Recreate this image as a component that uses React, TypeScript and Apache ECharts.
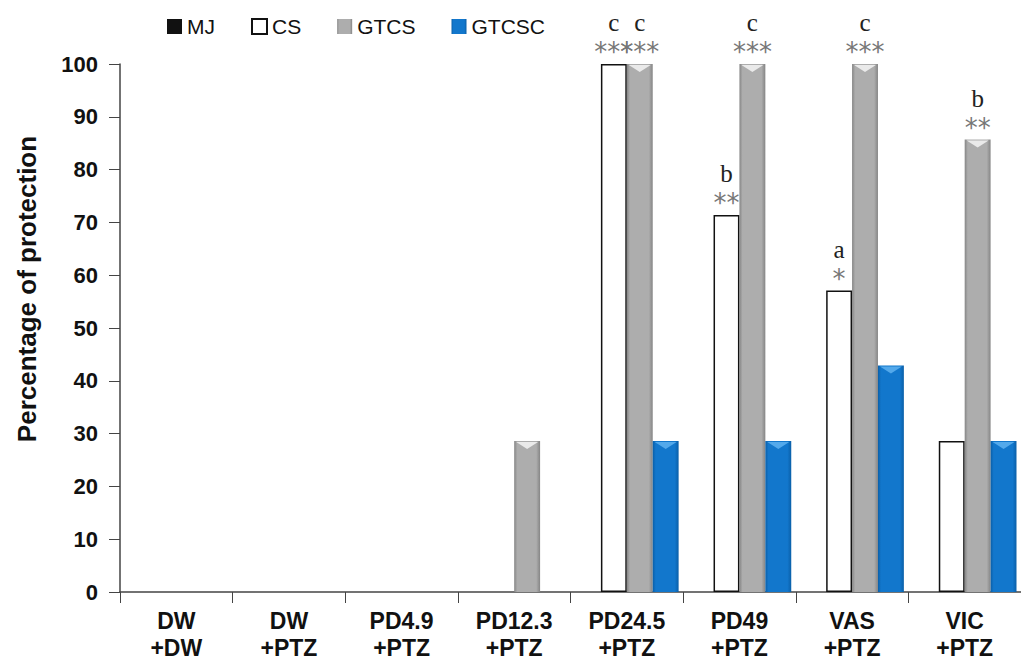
import React, { useEffect, useRef } from "react";
import * as echarts from "echarts";

const categories = ["DW\n+DW", "DW\n+PTZ", "PD4.9\n+PTZ", "PD12.3\n+PTZ", "PD24.5\n+PTZ", "PD49\n+PTZ", "VAS\n+PTZ", "VIC\n+PTZ"];
const seriesNames = ["MJ", "CS", "GTCS", "GTCSC"];
const mjValues = [0, 0, 0, 0, 0, 0, 0, 0];
const csValues = [0, 0, 0, 0, 100, 71.4, 57.1, 28.6];
const gtcsValues = [0, 0, 0, 28.6, 100, 100, 100, 85.7];
const gtcscValues = [0, 0, 0, 0, 28.6, 28.6, 42.9, 28.6];
const csLetters = ["", "", "", "", "c", "b", "a", ""];
const csStars = ["", "", "", "", "***", "**", "*", ""];
const gtcsLetters = ["", "", "", "", "c", "c", "c", "b"];
const gtcsStars = ["", "", "", "", "***", "***", "***", "**"];
const yTicks = { min: 0, max: 100, interval: 10 };
const yAxisTitle = "Percentage of protection";

const CAT_GAP = 0.08;
const SANS = "Liberation Sans, Arial, sans-serif";

function hGrad(edge: string, mid: string) {
  return new echarts.graphic.LinearGradient(0, 0, 1, 0, [
    { offset: 0, color: edge },
    { offset: 0.12, color: mid },
    { offset: 0.85, color: mid },
    { offset: 1, color: edge },
  ]);
}

function annot(letters: string[], stars: string[]) {
  return (p: any) => {
    const l = letters[p.dataIndex];
    const s = stars[p.dataIndex];
    if (!l && !s) return "";
    return `{l|${l}}\n{s|${s}}`;
  };
}

function chevronSeries(values: number[], slot: number, light: string) {
  return {
    type: "custom",
    silent: true,
    z: 5,
    data: values.map((v, i) => [i, v]),
    renderItem: (params: any, api: any) => {
      const v = api.value(1);
      if (!v) return null;
      const cat = api.value(0);
      const top = api.coord([cat, v]);
      const w = api.size([1, 0])[0];
      const usable = w * (1 - CAT_GAP);
      const bw = usable / 4;
      const x0 = top[0] - usable / 2 + slot * bw;
      const x1 = x0 + bw;
      const cx = (x0 + x1) / 2;
      return {
        type: "polygon",
        shape: { points: [[x0 + 2, top[1] + 1], [x1 - 2, top[1] + 1], [cx, top[1] + 8]] },
        style: { fill: light, opacity: 0.85 },
      };
    },
  };
}

export default function App() {
  const ref = useRef<HTMLDivElement>(null);
  useEffect(() => {
    const chart = echarts.init(ref.current!, undefined, { renderer: "svg" });
    const labelRich = {
      l: { fontFamily: "Liberation Serif, DejaVu Serif, serif", fontSize: 25, color: "#222", lineHeight: 39 },
      s: { fontFamily: "DejaVu Sans, sans-serif", fontSize: 26, color: "#777", lineHeight: 20 },
    };
    const barCommon = { type: "bar", barGap: "0%", barCategoryGap: "8%" };
    chart.setOption({
      animation: false,
      backgroundColor: "#fff",
      legend: {
        data: seriesNames,
        top: 11,
        left: 162,
        icon: "rect",
        itemWidth: 15,
        itemHeight: 15,
        itemGap: 36,
        textStyle: { fontFamily: SANS, fontSize: 21, color: "#111" },
      },
      grid: { left: 120, right: 0, top: 64, bottom: 75 },
      graphic: [
        {
          type: "text",
          x: 27,
          y: 289,
          rotation: Math.PI / 2,
          style: {
            text: yAxisTitle,
            fontFamily: SANS,
            fontSize: 26,
            fontWeight: "bold",
            fill: "#111",
            align: "center",
            verticalAlign: "middle",
          },
        },
      ],
      xAxis: {
        type: "category",
        data: categories,
        axisLine: { lineStyle: { color: "#444", width: 1.5 } },
        axisTick: { show: true, length: 11, interval: 0, lineStyle: { color: "#444" } },
        axisLabel: {
          interval: 0,
          margin: 15,
          fontSize: 23,
          fontWeight: "bold",
          color: "#111",
          lineHeight: 27,
          fontFamily: SANS,
        },
      },
      yAxis: {
        type: "value",
        min: yTicks.min,
        max: yTicks.max,
        interval: yTicks.interval,
        axisLine: { show: true, lineStyle: { color: "#444", width: 1.5 } },
        axisTick: { show: true, length: 11, lineStyle: { color: "#444" } },
        splitLine: { show: false },
        axisLabel: { margin: 22, fontSize: 22, fontWeight: "bold", color: "#111", fontFamily: SANS },
      },
      series: [
        {
          ...barCommon,
          name: "MJ",
          data: mjValues,
          itemStyle: { color: "#111" },
        },
        {
          ...barCommon,
          name: "CS",
          data: csValues.map((v) => (v ? v : { value: v, itemStyle: { borderWidth: 0 } })),
          itemStyle: { color: "#fff", borderColor: "#111", borderWidth: 1.5 },
          label: { show: true, position: "top", distance: 2, formatter: annot(csLetters, csStars), rich: labelRich, align: "center" },
        },
        {
          ...barCommon,
          name: "GTCS",
          data: gtcsValues,
          itemStyle: { color: hGrad("#858585", "#adadad") },
          label: { show: true, position: "top", distance: 2, formatter: annot(gtcsLetters, gtcsStars), rich: labelRich, align: "center" },
        },
        {
          ...barCommon,
          name: "GTCSC",
          data: gtcscValues,
          itemStyle: { color: hGrad("#0a5fa8", "#1277cc") },
        },
        chevronSeries(gtcsValues, 2, "#f4f4f4"),
        chevronSeries(gtcscValues, 3, "#5fb2f0"),
      ],
    });
    return () => chart.dispose();
  }, []);
  return <div ref={ref} style={{ position: "fixed", left: 0, top: 0, width: 1021, height: 667 }} />;
}
